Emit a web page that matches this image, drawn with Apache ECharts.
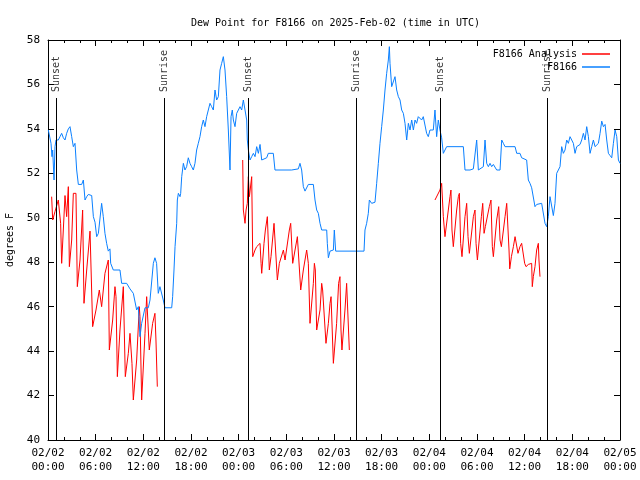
<!DOCTYPE html>
<html>
<head>
<meta charset="utf-8">
<script src="https://cdn.jsdelivr.net/npm/echarts@6/dist/echarts.min.js"></script>
<style>html,body{margin:0;padding:0;background:#fff}#c{width:640px;height:480px}</style>
</head>
<body>
<div id="c"></div>
<script>
// Time axis: hours since 2025-02-02 00:00 UTC
const tickLabels = ['02/02\n00:00','02/02\n06:00','02/02\n12:00','02/02\n18:00','02/03\n00:00','02/03\n06:00','02/03\n12:00','02/03\n18:00','02/04\n00:00','02/04\n06:00','02/04\n12:00','02/04\n18:00','02/05\n00:00'];

// F8166 observed dew point
const obsHours = [0.04,0.25,0.38,0.50,0.59,0.76,0.88,1.01,1.30,1.51,1.72,1.93,2.14,2.35,2.56,2.77,2.98,3.19,3.40,3.61,3.82,4.24,4.45,4.66,4.87,5.08,5.50,5.71,5.92,6.13,6.34,6.55,6.75,6.96,7.17,7.38,7.59,7.80,7.89,8.22,9.06,9.27,9.90,10.32,10.74,10.95,11.16,11.37,11.58,11.79,12.21,12.63,12.84,13.26,13.46,13.67,13.88,14.09,14.30,14.51,14.72,15.57,15.69,15.86,15.99,16.20,16.28,16.41,16.62,16.70,16.83,17.04,17.24,17.45,17.66,17.87,18.08,18.29,18.50,18.71,18.92,19.13,19.34,19.55,19.76,19.97,20.18,20.39,20.60,20.81,21.02,21.23,21.44,21.65,21.86,22.07,22.28,22.49,22.70,22.91,23.04,23.20,23.33,23.54,23.75,23.96,24.17,24.38,24.59,24.80,25.01,25.09,25.22,25.43,25.64,25.85,26.06,26.27,26.48,26.69,26.90,27.53,27.73,28.36,28.57,30.67,31.51,31.72,31.93,32.14,32.35,32.77,33.40,33.61,33.82,34.03,34.24,34.45,35.08,35.16,35.29,35.50,35.92,36.04,36.21,39.78,39.90,40.11,40.32,40.45,40.74,41.16,41.37,41.58,41.79,42.00,42.21,42.42,42.63,42.84,42.97,43.05,43.26,43.47,43.68,43.89,44.10,44.31,44.52,44.73,44.94,45.15,45.36,45.57,45.78,45.99,46.20,46.40,46.61,46.82,47.03,47.24,47.45,47.66,47.87,48.08,48.50,48.71,48.92,49.13,49.34,49.55,49.76,49.97,50.18,52.28,52.49,53.12,53.54,53.75,53.96,54.17,54.38,54.80,55.01,55.22,55.43,55.64,55.85,56.06,56.48,56.90,57.11,57.32,57.53,58.79,59.00,59.41,59.62,60.25,60.46,60.67,60.88,61.09,61.30,61.51,61.72,62.14,62.35,62.56,62.77,62.86,62.98,63.19,63.40,63.61,63.82,64.03,64.24,64.45,64.66,64.87,65.08,65.29,65.50,65.71,65.92,66.13,66.34,66.55,66.76,66.97,67.18,67.39,67.60,67.81,68.02,68.23,68.44,68.65,68.86,69.07,69.28,69.49,69.70,69.91,70.12,70.33,70.54,70.75,70.96,71.17,71.38,71.59,71.80,72.00];
const obsDew = [53.95,54.0,53.35,52.75,53.05,51.7,53.2,53.5,53.5,53.65,53.8,53.6,53.5,53.8,54.0,54.1,53.65,53.2,53.35,52.15,51.5,51.5,51.7,50.8,50.95,51.05,51.0,50.05,49.8,49.15,49.3,49.3,50.65,50.05,49.3,48.85,48.5,48.6,47.95,47.65,47.65,47.05,47.05,46.8,46.6,46.6,45.85,46.0,44.65,45.25,45.95,45.95,46.3,47.95,48.2,47.95,46.6,46.9,46.9,46.3,45.95,45.95,46.45,47.65,48.7,49.75,50.8,51.1,50.95,51.1,51.85,52.45,52.15,52.3,52.7,52.45,52.3,52.15,52.45,53.05,53.35,53.65,54.1,54.4,54.1,54.55,54.85,55.15,55.0,54.85,55.75,55.3,55.45,56.65,56.95,57.25,56.65,55.45,53.95,52.15,54.55,54.85,54.4,54.1,54.7,54.85,55.0,54.85,55.3,54.85,54.4,53.5,53.05,52.6,52.75,52.9,52.75,53.2,52.9,53.3,52.6,52.7,52.9,52.9,52.15,52.15,52.2,52.45,52.15,51.4,51.2,51.5,51.5,50.8,50.35,50.2,49.75,49.45,49.45,48.85,48.2,48.5,48.55,49.45,48.5,48.5,49.45,49.75,50.2,50.8,50.65,50.7,51.55,52.45,53.35,54.1,54.85,55.75,56.5,57.1,57.7,56.95,55.9,55.9,56.35,55.75,55.45,55.3,54.85,54.7,54.25,53.5,54.25,53.95,54.4,53.95,54.4,54.25,54.55,54.6,54.4,54.55,54.55,53.8,53.65,53.95,53.95,54.85,53.65,54.4,53.95,53.6,52.9,52.9,53.2,53.2,52.15,52.15,52.2,52.15,53.5,52.15,52.15,52.3,53.5,52.45,52.3,52.45,52.3,52.4,52.15,52.15,53.5,53.35,53.2,53.2,52.9,52.9,52.7,52.6,51.7,51.55,51.35,51.35,50.5,50.6,50.65,50.65,50.6,49.75,49.6,49.6,50.05,50.95,50.95,50.1,50.65,52.0,52.15,52.3,53.2,52.9,53.05,53.5,53.35,53.65,53.6,53.35,52.9,53.2,53.2,53.3,53.5,53.8,53.5,54.1,53.65,52.9,53.2,53.5,53.2,53.2,53.35,53.8,54.35,54.1,54.2,53.5,52.9,52.8,52.7,53.35,53.95,53.65,52.6,52.45];

// F8166 analysis dew point (null = no analysis)
const anaHours = [0.46,0.59,0.88,1.30,1.59,1.72,2.14,2.35,2.56,2.69,2.98,3.19,3.52,3.69,4.03,4.36,4.53,4.87,5.29,5.50,5.62,6.04,6.46,6.75,7.17,7.59,7.72,8.14,8.43,8.56,8.73,9.06,9.48,9.61,9.73,10.11,10.32,10.57,10.74,11.16,11.49,11.58,11.79,12.21,12.42,12.75,13.17,13.46,13.59,13.76,
  19.0,
  24.51,24.59,24.80,24.93,25.09,25.22,25.35,25.64,25.77,26.06,26.27,26.69,26.82,26.90,27.19,27.36,27.61,27.86,28.07,28.45,28.57,28.87,29.12,29.63,29.84,30.38,30.55,30.80,31.39,31.64,31.81,32.14,32.56,32.77,32.98,33.40,33.53,33.65,33.82,34.24,34.45,34.57,34.99,35.29,35.50,35.63,35.92,36.33,36.58,36.75,36.88,37.00,37.38,37.59,37.76,37.93,
  43.0,
  48.71,49.34,49.55,49.76,49.97,50.39,50.60,50.72,50.85,51.02,51.44,51.65,51.78,51.94,52.11,52.49,52.70,52.87,53.04,53.54,53.75,53.88,54.05,54.55,54.72,54.89,55.05,55.55,55.76,55.93,56.06,56.48,56.73,56.90,57.07,57.53,57.74,57.86,58.03,58.12,58.33,58.58,58.79,59.00,59.16,59.41,59.62,59.83,60.00,60.17,60.46,60.88,60.96,61.09,61.30,61.51,61.72,61.80,61.93];
const anaDew = [50.95,49.9,50.28,50.8,49.75,47.95,51.0,50.05,51.4,47.8,49.0,51.1,51.1,46.9,48.1,50.35,46.15,47.65,49.4,49.45,45.1,45.85,46.75,46.0,47.5,48.1,44.05,45.4,46.9,46.45,42.85,44.95,46.9,46.9,42.85,43.9,44.8,43.45,41.8,43.6,46.0,45.55,41.8,44.8,46.45,44.05,45.25,45.7,44.5,42.4,
  null,
  52.6,50.35,49.75,50.35,50.65,51.85,50.95,51.85,48.25,48.55,48.7,48.85,47.95,47.5,48.85,49.45,50.05,47.65,48.25,49.75,49.75,47.2,47.95,48.55,48.1,49.45,49.75,47.95,49.15,49.15,46.75,47.65,48.55,47.95,45.25,47.05,47.95,47.65,44.95,45.85,47.05,46.75,44.35,45.25,46.15,46.45,43.45,45.25,47.05,47.35,44.95,44.05,45.85,47.05,47.05,44.05,
  null,
  50.8,51.25,51.55,50.05,49.15,50.35,50.95,51.25,49.45,48.7,50.35,50.95,51.1,48.85,48.25,50.05,50.65,49.15,48.4,50.05,50.35,48.85,48.1,50.05,50.65,49.3,49.6,50.5,50.8,48.7,48.25,49.9,50.5,49.0,48.7,50.05,50.65,50.7,48.55,47.7,48.25,48.7,49.15,49.2,48.4,48.7,48.85,48.9,47.95,47.8,47.9,47.95,46.9,47.35,47.8,48.55,48.85,48.1,47.35];

// Sunrise / sunset events
const eventHours = [1.01, 14.60, 25.20, 38.77, 49.35, 62.85];
const eventNames = ['Sunset','Sunrise','Sunset','Sunrise','Sunset','Sunrise'];
const eventLineTop = 55.39;
const eventLabelBase = 55.66;

const FONT = 'DejaVu Sans Mono';
const zip = (a, b) => a.map((v, i) => [v, b[i]]);

const chart = echarts.init(document.getElementById('c'), null, {renderer: 'canvas'});
const xCommon = {
  type: 'value', min: 0, max: 72, interval: 6,
  splitLine: {show: false},
  axisLine: {show: true, onZero: false, lineStyle: {color: '#000', width: 1}},
  axisTick: {show: true, inside: true, length: 6, lineStyle: {color: '#000'}},
  minorTick: {show: true, splitNumber: 3, length: 3, lineStyle: {color: '#000'}},
};
const yCommon = {
  type: 'value', min: 40, max: 58, interval: 2,
  splitLine: {show: false},
  axisLine: {show: true, onZero: false, lineStyle: {color: '#000', width: 1}},
  axisTick: {show: true, inside: true, length: 6, lineStyle: {color: '#000'}},
};
chart.setOption({
  animation: false,
  backgroundColor: '#fff',
  title: {
    text: 'Dew Point for F8166 on 2025-Feb-02 (time in UTC)',
    left: 186, top: 13,
    textStyle: {fontFamily: FONT, fontSize: 10, fontWeight: 'normal', color: '#000'}
  },
  grid: {left: 48, right: 20, top: 40, bottom: 40, containLabel: false, outerBoundsMode: 'none'},
  legend: {
    data: ['F8166 Analysis', 'F8166'],
    orient: 'vertical', align: 'right',
    right: 25, top: 43,
    itemWidth: 28, itemHeight: 1.5, itemGap: 1,
    icon: 'rect',
    textStyle: {fontFamily: FONT, fontSize: 10, color: '#000', lineHeight: 12},
  },
  xAxis: [
    Object.assign({}, xCommon, {
      position: 'bottom',
      axisLabel: {
        color: '#000', fontFamily: FONT, fontSize: 11, lineHeight: 14, margin: 6,
        formatter: v => tickLabels[Math.round(v / 6)] || ''
      }
    }),
    Object.assign({}, xCommon, {position: 'top', axisLabel: {show: false}})
  ],
  yAxis: [
    Object.assign({}, yCommon, {
      position: 'left',
      name: 'degrees F', nameLocation: 'middle', nameGap: 32, nameRotate: 90,
      nameTextStyle: {fontFamily: FONT, fontSize: 10, color: '#000'},
      axisLabel: {color: '#000', fontFamily: FONT, fontSize: 11, margin: 8}
    }),
    Object.assign({}, yCommon, {position: 'right', axisLabel: {show: false}})
  ],
  series: [
    {
      name: 'F8166 Analysis', type: 'line',
      data: zip(anaHours, anaDew),
      showSymbol: false, symbol: 'none', connectNulls: false,
      lineStyle: {color: '#ff0000', width: 1}, itemStyle: {color: '#ff0000'},
      z: 3
    },
    {
      name: 'F8166', type: 'line',
      data: zip(obsHours, obsDew),
      showSymbol: false, symbol: 'none',
      lineStyle: {color: '#0a80ff', width: 1}, itemStyle: {color: '#0a80ff'},
      z: 4
    },
    {
      name: 'events', type: 'scatter',
      data: eventHours.map((h, i) => ({value: [h, eventLabelBase], name: eventNames[i]})),
      symbolSize: 0,
      silent: true,
      label: {
        show: true, position: 'inside', rotate: 90, align: 'left', verticalAlign: 'middle',
        formatter: p => p.name,
        fontFamily: FONT, fontSize: 10, color: '#000'
      },
      markLine: {
        silent: true, symbol: ['none', 'none'],
        label: {show: false},
        lineStyle: {color: '#000', width: 1, type: 'solid'},
        data: eventHours.map(h => [{coord: [h, 40]}, {coord: [h, eventLineTop]}])
      },
      z: 2
    }
  ]
});
</script>
</body>
</html>
